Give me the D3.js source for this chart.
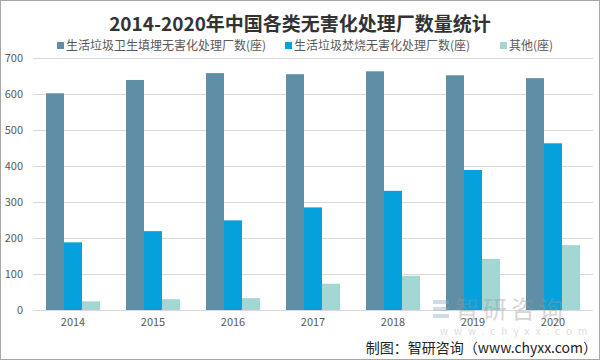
<!DOCTYPE html>
<html><head><meta charset="utf-8">
<script src="https://cdn.jsdelivr.net/npm/d3@7"></script>
<style>body{margin:0;background:#fff}svg{display:block}</style>
</head><body>
<svg id="c" width="600" height="360"></svg>
<script>
const years = ["2014","2015","2016","2017","2018","2019","2020"];
const seriesNames = ["生活垃圾卫生填埋无害化处理厂数(座)","生活垃圾焚烧无害化处理厂数(座)","其他(座)"];
const landfill = [602, 639, 658, 655, 663, 652, 644];
const incineration = [188, 219, 249, 285, 331, 389, 463];
const others = [24, 30, 33, 73, 95, 142, 180];
const yTicks = [0,100,200,300,400,500,600,700];
const colors = ["#5f8fa6","#04a1dc","#a2d7d5"];

const series = [landfill, incineration, others];
const svg = d3.select("#c");
const font = "'Noto Sans CJK SC','Noto Sans',sans-serif";

svg.append("rect").attr("x",0.5).attr("y",0.5).attr("width",599).attr("height",359)
  .attr("fill","#fff").attr("stroke","#a6a6a6");

const m = {l:33, r:593, t:58, b:310};
const x = d3.scaleBand().domain(years).range([m.l, m.r]);
const x1 = d3.scaleBand().domain(d3.range(3)).range([0, 54]);
const y = d3.scaleLinear().domain([0,700]).range([m.b, m.t]);

svg.append("g").selectAll("line").data(yTicks).join("line")
  .attr("x1", m.l).attr("x2", m.r)
  .attr("y1", d=>y(d)+0.5).attr("y2", d=>y(d)+0.5)
  .attr("stroke","#d9d9d9").attr("stroke-width",1);

const yAxis = d3.axisLeft(y).tickValues(yTicks).tickSize(0).tickPadding(0);
const ya = svg.append("g").attr("transform",`translate(${m.l-10},0)`).call(yAxis);
ya.select(".domain").remove();
ya.selectAll("text").attr("font-family",font).attr("font-size",11).attr("fill","#595959");

const xAxis = d3.axisBottom(x).tickSize(0).tickPadding(0);
const xa = svg.append("g").attr("transform",`translate(0,${m.b+8})`).call(xAxis);
xa.select(".domain").remove();
xa.selectAll("text").attr("font-family",font).attr("font-size",11).attr("fill","#595959");

const groups = svg.append("g").selectAll("g").data(years).join("g")
  .attr("transform", d=>`translate(${x(d)+x.bandwidth()/2-27},0)`);
groups.selectAll("rect").data((d,i)=>series.map((s,k)=>({k, v:s[i]}))).join("rect")
  .attr("x", d=>x1(d.k)).attr("width", x1.bandwidth())
  .attr("y", d=>y(d.v)).attr("height", d=>y(0)-y(d.v))
  .attr("fill", d=>colors[d.k]);

svg.append("text").attr("x",300).attr("y",31).attr("text-anchor","middle")
  .attr("font-family",font).attr("font-size",19).attr("font-weight","bold").attr("fill","#333")
  .text("2014-2020年中国各类无害化处理厂数量统计");

const legX = [57, 285, 500];
const leg = svg.append("g").selectAll("g").data(seriesNames).join("g")
  .attr("transform",(d,i)=>`translate(${legX[i]},46)`);
leg.append("rect").attr("x",0).attr("y",-4).attr("width",7).attr("height",7).attr("fill",(d,i)=>colors[i]);
leg.append("text").attr("x",9).attr("y",4).attr("font-family",font).attr("font-size",12)
  .attr("fill","#595959").text(d=>d);

const wm = svg.append("g").attr("opacity",0.4);
wm.append("rect").attr("x",433).attr("y",300).attr("width",16).attr("height",4).attr("fill","#8fa4c4");
wm.append("rect").attr("x",433).attr("y",307).attr("width",16).attr("height",4).attr("fill","#8fa4c4");
wm.append("rect").attr("x",433).attr("y",314).attr("width",16).attr("height",4).attr("fill","#8fa4c4");
wm.append("text").attr("x",455).attr("y",318).attr("font-family",font).attr("font-size",24)
  .attr("fill","#999").attr("letter-spacing",4).text("智研咨询");
wm.append("text").attr("x",440).attr("y",335).attr("font-family",font).attr("font-size",10)
  .attr("fill","#aaa").attr("letter-spacing",6).text("www.chyxx.com");

svg.append("text").attr("x",597).attr("y",353).attr("text-anchor","end")
  .attr("font-family",font).attr("font-size",14).attr("fill","#222")
  .text("制图：智研咨询（www.chyxx.com）");
</script>
</body></html>
